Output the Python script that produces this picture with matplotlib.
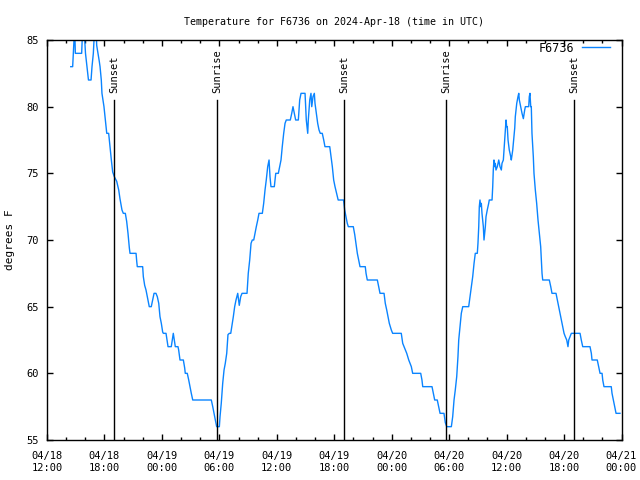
import datetime as dt
import matplotlib
matplotlib.use('Agg')
import matplotlib.pyplot as plt
import matplotlib.dates as mdates

# hours after 2024-04-18 12:00 UTC, and the reading in degrees F
hours = [2.48, 2.68, 2.75, 2.89, 2.96, 3.62, 3.73, 3.86, 4.02, 4.18,
         4.33, 4.49, 4.60, 4.70, 4.84, 4.98, 5.12, 5.19, 5.33, 5.46,
         5.54, 5.67, 5.74, 5.95, 6.09, 6.24, 6.44, 6.58, 6.72, 6.86,
         7.03, 7.28, 7.49, 7.62, 7.83, 7.97, 8.18, 8.32, 8.46, 8.60,
         8.67, 9.30, 9.37, 9.43, 9.99, 10.06, 10.20, 10.34, 10.48, 10.62,
         10.68, 10.89, 11.04, 11.18, 11.38, 11.52, 11.67, 11.80, 11.94, 12.08,
         12.15, 12.43, 12.56, 12.64, 12.98, 13.09, 13.19, 13.30, 13.40, 13.68,
         13.75, 13.89, 14.24, 14.38, 14.44, 14.65, 14.80, 14.93, 15.07, 15.22,
         17.16, 17.31, 17.44, 17.58, 17.72, 18.00, 18.07, 18.20, 18.35, 18.49,
         18.62, 18.77, 18.90, 19.04, 19.19, 19.32, 19.46, 19.60, 19.74, 19.92,
         20.08, 20.23, 20.37, 20.89, 21.02, 21.17, 21.31, 21.44, 21.59, 21.72,
         21.86, 22.01, 22.14, 22.49, 22.63, 22.77, 22.90, 23.05, 23.19, 23.29,
         23.39, 23.74, 23.89, 24.16, 24.30, 24.44, 24.57, 24.72, 24.86, 24.99,
         25.41, 25.56, 25.69, 25.83, 25.97, 26.25, 26.39, 26.53, 26.95, 27.08,
         27.23, 27.29, 27.44, 27.57, 27.65, 27.78, 27.92, 27.99, 28.13, 28.27,
         28.41, 28.54, 28.75, 28.90, 29.03, 29.53, 29.66, 29.80, 29.94, 30.08,
         30.24, 30.41, 30.97, 31.09, 31.23, 31.36, 31.47, 31.99, 32.14, 32.27,
         32.41, 32.55, 32.69, 33.24, 33.32, 33.45, 34.50, 34.64, 34.78, 35.20,
         35.33, 35.48, 35.61, 35.75, 35.96, 36.10, 37.00, 37.15, 37.29, 37.57,
         37.78, 37.91, 38.05, 38.19, 39.03, 39.16, 39.24, 40.21, 40.35, 40.49,
         40.76, 40.91, 41.05, 41.46, 41.60, 41.75, 42.23, 42.37, 42.51, 42.64,
         42.79, 42.92, 43.00, 43.13, 43.27, 43.42, 44.04, 44.18, 44.31, 44.46,
         44.60, 44.73, 44.94, 45.01, 45.09, 45.15, 45.22, 45.30, 45.36, 45.43,
         45.57, 45.64, 45.71, 45.78, 45.85, 45.98, 46.13, 46.19, 46.48, 46.55,
         46.61, 46.68, 46.76, 46.82, 46.89, 47.03, 47.18, 47.31, 47.45, 47.52,
         47.66, 47.73, 47.80, 47.86, 47.94, 48.01, 48.07, 48.15, 48.28, 48.43,
         48.49, 48.64, 48.77, 48.85, 48.91, 49.06, 49.19, 49.27, 49.33, 49.47,
         49.61, 49.75, 49.89, 49.96, 50.31, 50.37, 50.44, 50.52, 50.58, 50.65,
         50.79, 50.86, 51.00, 51.14, 51.28, 51.42, 51.56, 51.63, 51.70, 51.77,
         52.46, 52.61, 52.74, 53.16, 53.30, 53.44, 53.58, 53.71, 53.86, 54.00,
         54.13, 54.28, 54.41, 54.49, 54.62, 54.76, 55.67, 55.80, 55.95, 56.71,
         56.85, 56.92, 57.47, 57.62, 57.76, 57.97, 58.04, 58.17, 58.93, 59.01,
         59.15, 59.29, 59.43, 59.84]

temps = [83, 83, 84, 86, 84, 84, 86, 86, 84, 83,
         82, 82, 82, 83, 84, 86, 86, 84.6, 84, 83.4,
         83, 82, 81, 80, 79, 78, 78, 77, 76, 75.1,
         74.75, 74.4, 73.75, 73.1, 72.25, 72, 72, 71.4, 70.5, 69.4,
         69, 69, 68.4, 68, 68, 67.25, 66.6, 66.25, 65.75, 65.25,
         65, 65, 65.5, 66, 66, 65.75, 65.25, 64.25, 63.75, 63.1,
         63, 63, 62.4, 62, 62, 62.5, 63, 62.5, 62, 62,
         61.75, 61, 61, 60.4, 60, 60, 59.5, 59, 58.5, 58,
         58, 57.5, 57, 56.5, 56, 56, 56.75, 57.75, 59.25, 60.25,
         60.75, 61.5, 62.9, 63, 63, 63.6, 64.25, 65, 65.5, 66,
         65.1, 65.75, 66, 66, 67.5, 68.5, 69.75, 70, 70, 70.5,
         71, 71.5, 72, 72, 72.75, 73.75, 74.5, 75.5, 76, 74.75,
         74, 74, 75, 75, 75.5, 76, 77, 78, 78.75, 79,
         79, 79.5, 80, 79.5, 79, 79, 80.5, 81, 81, 79,
         78, 79, 80.5, 81, 80, 80.75, 81, 80.25, 79.5, 78.75,
         78.25, 78, 78, 77.5, 77, 77, 76.25, 75.5, 74.5, 74,
         73.5, 73, 73, 72.25, 71.75, 71.25, 71, 71, 70.4, 69.75,
         69, 68.5, 68, 68, 67.5, 67, 67, 66.5, 66, 66,
         65.25, 64.75, 64.25, 63.75, 63.25, 63, 63, 62.25, 62, 61.5,
         61, 60.75, 60.5, 60, 60, 59.5, 59, 59, 58.5, 58,
         58, 57.5, 57, 57, 56.3, 56, 56, 56.75, 58, 58.75,
         59.75, 61.25, 62.5, 63.5, 64.5, 65, 65, 65.75, 66.5, 67.25,
         68.25, 69, 69, 69.75, 71, 72.5, 73, 72.5, 72.75, 72,
         71, 70, 70.5, 71, 71.75, 72.25, 72.75, 73, 73, 74,
         75.25, 76, 75.5, 75.75, 75.25, 75.5, 76, 75.5, 75.25, 75.75,
         76, 76.75, 77.5, 78.2, 79, 78.5, 78.5, 77.5, 76.75, 76.25,
         76, 76.75, 77.75, 78.4, 79.25, 80.25, 80.75, 81, 80.5, 80,
         79.5, 79.1, 79.75, 80, 80, 80.75, 81, 80, 80, 78,
         76.25, 75, 73.75, 72.75, 71.5, 70.5, 69.5, 68.5, 67.5, 67,
         67, 66.5, 66, 66, 65.5, 65, 64.5, 64, 63.5, 63,
         62.75, 62.5, 62, 62.5, 62.75, 63, 63, 62.5, 62, 62,
         61.5, 61, 61, 60.5, 60, 60, 59.5, 59, 59, 58.5,
         58, 57.5, 57, 57]

# sun events, hours after the same start
event_hours = [7.03, 17.79, 31.05, 41.70, 55.07]
event_names = ['Sunset', 'Sunrise', 'Sunset', 'Sunrise', 'Sunset']

station = 'F6736'
start = dt.datetime(2024, 4, 18, 12, 0)

times = [start + dt.timedelta(hours=h) for h in hours]
event_times = [start + dt.timedelta(hours=h) for h in event_hours]

plt.rcParams['font.family'] = 'DejaVu Sans Mono'
plt.rcParams['font.size'] = 7.5

fig = plt.figure(figsize=(6.4, 4.8), dpi=100)
ax = fig.add_axes([47 / 640, 40 / 480, 574.5 / 640, 400 / 480])

ax.plot(times, temps, color='#0a84ff', lw=1.0, label=station)

for t, name in zip(event_times, event_names):
    ax.plot([t, t], [55, 80.5], color='black', lw=1.0)
    ax.text(t, 81.0, name, rotation=90, ha='center', va='bottom', fontsize=7.5)

ax.set_xlim(start, start + dt.timedelta(hours=60))
ax.set_ylim(55, 85)
ax.set_yticks([55, 60, 65, 70, 75, 80, 85])

ax.xaxis.set_major_locator(mdates.HourLocator(byhour=[0, 6, 12, 18]))
ax.xaxis.set_minor_locator(mdates.HourLocator(byhour=range(0, 24, 2)))
ax.xaxis.set_major_formatter(mdates.DateFormatter('%m/%d\n%H:%M'))

ax.tick_params(which='both', direction='in', top=True, right=True, width=1, colors='black')
ax.tick_params(which='major', length=4.5, pad=6)
ax.tick_params(axis='x', which='major', pad=8)
ax.tick_params(which='minor', length=2.5)
for s in ax.spines.values():
    s.set_linewidth(1)

ax.set_ylabel('degrees F', fontsize=8, labelpad=8)
ax.set_title('Temperature for %s on 2024-Apr-18 (time in UTC)' % station, fontsize=7.2, pad=11)

ax.legend(loc='upper right', bbox_to_anchor=(0.988, 1.008), frameon=False, markerfirst=False,
          handlelength=2.4, fontsize=8.5, borderaxespad=0, borderpad=0.4, handletextpad=0.6)

fig.savefig('out.png', dpi=100)
